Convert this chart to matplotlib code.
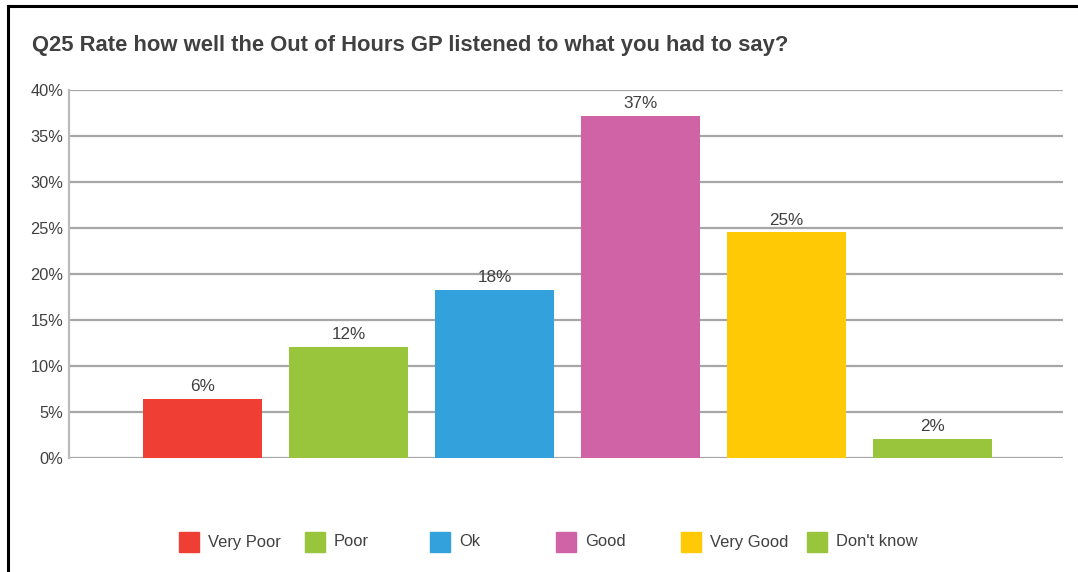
import matplotlib
matplotlib.use("Agg")
import matplotlib.pyplot as plt
from matplotlib.patches import Rectangle
from matplotlib.lines import Line2D

plt.rcParams['font.family'] = ['Liberation Sans', 'DejaVu Sans']

categories = ["Very Poor", "Poor", "Ok", "Good", "Very Good", "Don't know"]
values = [6.4, 12.0, 18.2, 37.2, 24.5, 2.0]
labels = ["6%", "12%", "18%", "37%", "25%", "2%"]
colors = ["#EF3E33", "#98C53B", "#33A2DC", "#D063A5", "#FFCA05", "#98C53B"]
yticks = [0, 5, 10, 15, 20, 25, 30, 35, 40]
ytick_labels = ["0%", "5%", "10%", "15%", "20%", "25%", "30%", "35%", "40%"]
title = "Q25 Rate how well the Out of Hours GP listened to what you had to say?"

W, H = 1078, 572
fig = plt.figure(figsize=(W / 100, H / 100), dpi=100)
txt = "#404040"

ax = fig.add_axes([69 / W, 1 - 457.5 / H, (1063 - 69) / W, (457.5 - 90) / H])
x = list(range(len(categories)))
ax.bar(x, values, width=0.815, color=colors, zorder=3)
ax.set_xlim(-0.914, 5.894)
ax.set_ylim(0, 40)
ax.set_yticks(yticks)
ax.set_yticklabels(ytick_labels, fontsize=11.8, color=txt)
ax.set_xticks([])
ax.tick_params(axis='y', length=0, pad=4)
ax.grid(axis='y', color='#A6A6A6', linewidth=1.6, zorder=0)
for s in ['top', 'right', 'bottom']:
    ax.spines[s].set_visible(False)
ax.spines['left'].set_color('#BBBBBB')
ax.spines['left'].set_linewidth(1.6)

for xi, v, lab in zip(x, values, labels):
    ax.annotate(lab, (xi, v), xytext=(0, 3.5), textcoords='offset points',
                ha='center', va='bottom', fontsize=12.3, color=txt)

fig.text(32 / W, 1 - 45 / H, title, fontsize=15.85, fontweight='bold',
         color=txt, va='center', ha='left')

# legend
for i, (c, lab) in enumerate(zip(colors, categories)):
    lx = 179 + i * 125.6
    fig.add_artist(Rectangle((lx / W, 1 - 551.7 / H), 20 / W, 20 / H,
                             transform=fig.transFigure, color=c))
    fig.text((lx + 29) / W, 1 - 542 / H, lab, fontsize=11.9, color=txt,
             va='center', ha='left')

# frame border
fig.add_artist(Line2D([8 / W, 1], [1 - 6 / H, 1 - 6 / H], transform=fig.transFigure,
                      color='black', linewidth=2.2))
fig.add_artist(Line2D([8 / W, 8 / W], [0, 1 - 6 / H], transform=fig.transFigure,
                      color='black', linewidth=2.2))

fig.savefig("out.png", dpi=100)
